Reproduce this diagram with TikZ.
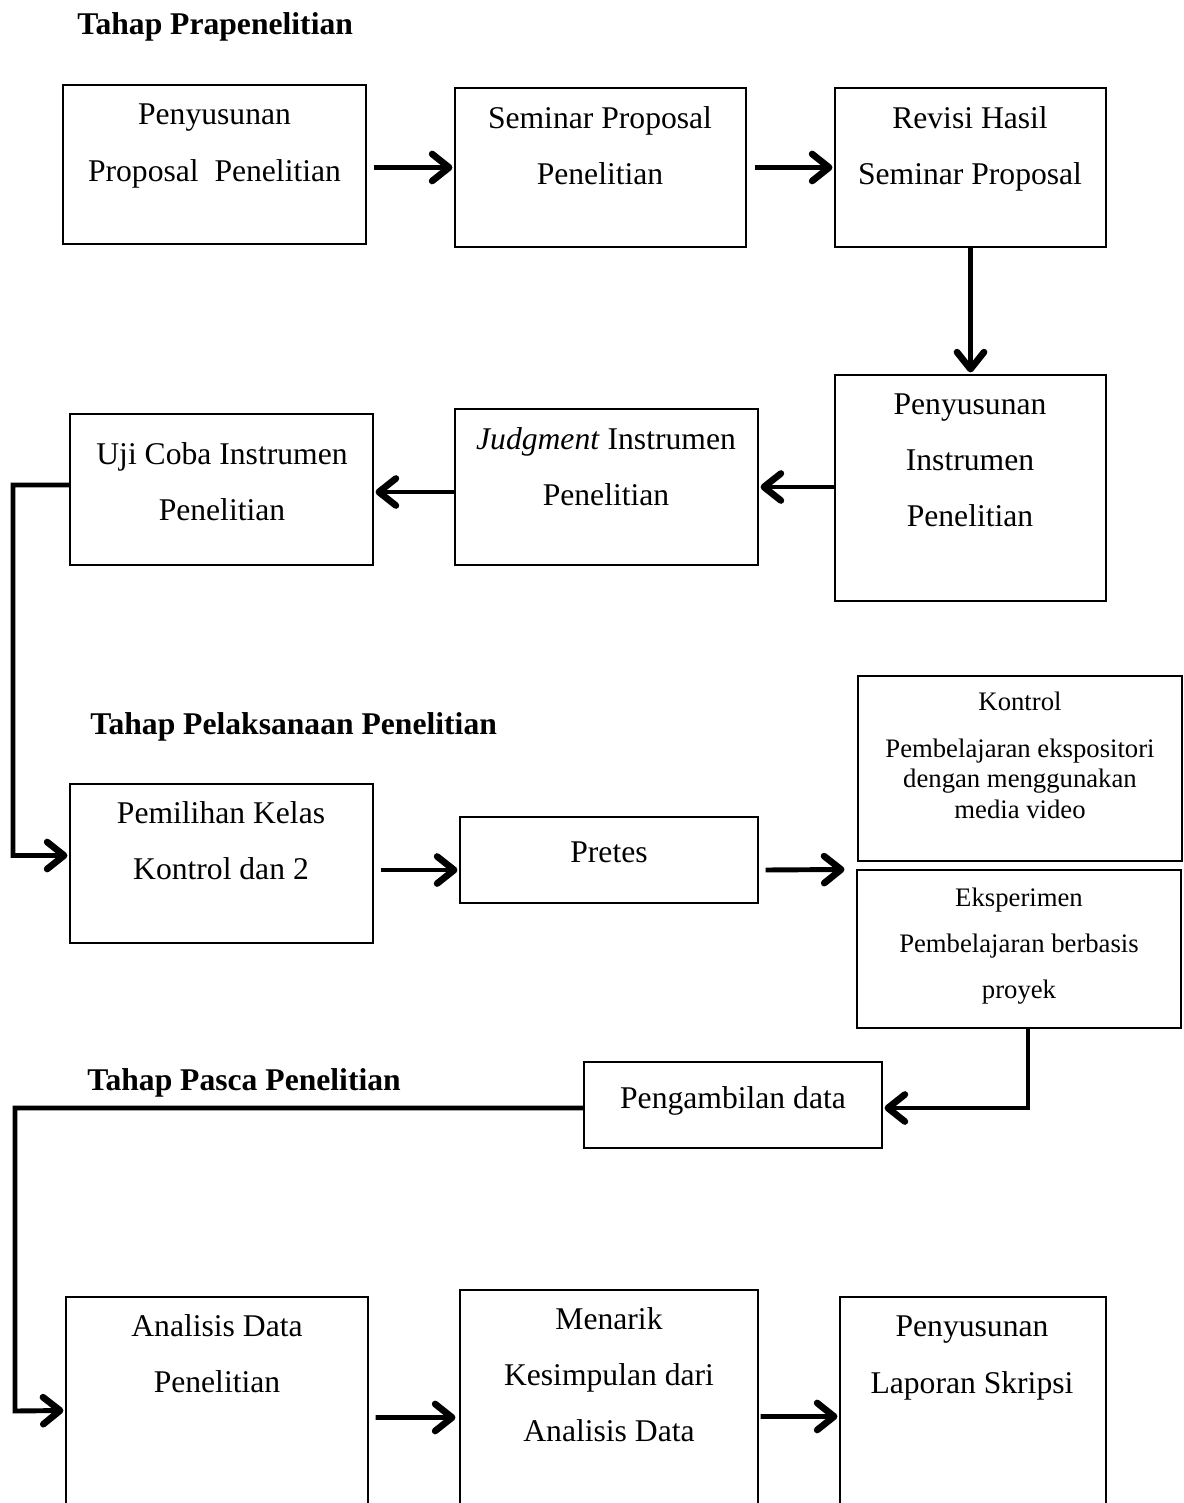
\documentclass[tikz,border=0pt]{standalone}
\usepackage{fontspec}
\setmainfont{Liberation Serif}
\usetikzlibrary{arrows.meta,fit,calc}
\begin{document}
\begin{tikzpicture}[x=0.02cm,y=-0.02cm,
  box/.style={draw, line width=0.6pt, inner sep=0pt},
  txt/.style={align=center, font=\fontsize{18}{31.9}\selectfont, inner sep=0pt},
  smalltxt/.style={align=center, font=\fontsize{15.2}{17.4}\selectfont, inner sep=0pt},
  smalltxtb/.style={align=center, font=\fontsize{15.2}{26.2}\selectfont, inner sep=0pt},
  head/.style={anchor=west, font=\fontsize{18}{22}\selectfont\bfseries, inner sep=0pt},
  arr/.style={line width=2.8pt, -{Straight Barb[length=3.4mm,width=5.4mm,line width=3.8pt,round]}}
]
\useasboundingbox (0,0) rectangle (1183,1503);
\clip (0,0) rectangle (1183,1503);

% headings
\node[head] (h1) at (77,27) {Tahap Prapenelitian};
\node[head] (h2) at (90,727) {Tahap Pelaksanaan Penelitian};
\node[head] (h3) at (87,1083) {Tahap Pasca Penelitian};

% boxes
\node[box, fit={(63,85)(366,244)}] (b1) {};
\node[box, fit={(455,88)(746,247)}] (b2) {};
\node[box, fit={(835,88)(1106,247)}] (b3) {};
\node[box, fit={(835,375)(1106,601)}] (b4) {};
\node[box, fit={(455,409)(758,565)}] (b5) {};
\node[box, fit={(70,414)(373,565)}] (b6) {};
\node[box, fit={(70,784)(373,943)}] (b7) {};
\node[box, fit={(460,817)(758,903)}] (b8) {};
\node[box, fit={(858,676)(1182,861)}] (b9) {};
\node[box, fit={(857,870)(1181,1028)}] (b10) {};
\node[box, fit={(584,1062)(882,1148)}] (b11) {};
\node[box, fit={(66,1297)(368,1560)}] (b12) {};
\node[box, fit={(460,1290)(758,1560)}] (b13) {};
\node[box, fit={(840,1297)(1106,1560)}] (b14) {};

% texts
\node[txt] (t1) at (214.5,146) {Penyusunan\\Proposal\ \ Penelitian};
\node[txt] (t2) at (600,145.5) {Seminar Proposal\\Penelitian};
\node[txt] (t3) at (970,148.5) {Revisi Hasil\\Seminar Proposal};
\node[txt] (t4) at (970,460) {Penyusunan\\Instrumen\\Penelitian};
\node[txt] (t5) at (606,467) {\textit{Judgment} Instrumen\\Penelitian};
\node[txt] (t6) at (222,482) {Uji Coba Instrumen\\Penelitian};
\node[txt] (t7) at (221,841) {Pemilihan Kelas\\Kontrol dan 2};
\node[txt] (t8) at (609,852) {Pretes};
\node[smalltxt] (t9) at (1020,755) {Kontrol\\[9.4pt]Pembelajaran ekspositori\\dengan menggunakan\\media video};
\node[smalltxtb] (t10) at (1019,946) {Eksperimen\\Pembelajaran berbasis\\proyek};
\node[txt] (t11) at (733,1101) {Pengambilan data};
\node[txt] (t12) at (217,1354) {Analisis Data\\Penelitian};
\node[txt] (t13) at (609,1375) {Menarik\\Kesimpulan dari\\Analisis Data};
\node[txt] (t14) at (972,1358) {Penyusunan\\Laporan Skripsi};

% connectors
\draw[arr] ($(b1.east|-b2.west)+(7,0)$) -- ($(b2.west)+(-2,0)$);
\draw[arr] ($(b2.east)+(8,0)$) -- ($(b3.west)+(-2,0)$);
\draw[arr] (b3.south) -- ($(b4.north)+(0,-2)$);
\draw[arr] (b4.west|-b5.east) -- ($(b5.east)+(2,0)$);
\draw[arr] ($(b5.west)+(0,5)$) -- ($(b6.east|-b5.west)+(2,5)$);
\draw[arr] ($(b6.west)+(0,-4.5)$) -- (13,485) -- (13,855.5) -- ($(b7.west)+(-2,-8)$);
\draw[arr] ($(b7.east)+(7,6.5)$) -- ($(b8.west)+(-2,10)$);
\draw[arr] ($(b8.east)+(7,10)$) -- ($(b10.north west)+(-12,0)$);
\draw[arr] ($(b10.south)+(9,0)$) |- ($(b11.east)+(2,3)$);
\draw[arr] ($(b11.west)+(0,3)$) -- (15,1108) -- (15,1411) -- ($(b12.north west)+(-2,114)$);
\draw[arr] ($(b12.north east)+(7,121)$) -- ($(b13.north west)+(-4,128)$);
\draw[arr] ($(b13.north east)+(2,127)$) -- ($(b14.north west)+(-2,120)$);
\end{tikzpicture}
\end{document}
